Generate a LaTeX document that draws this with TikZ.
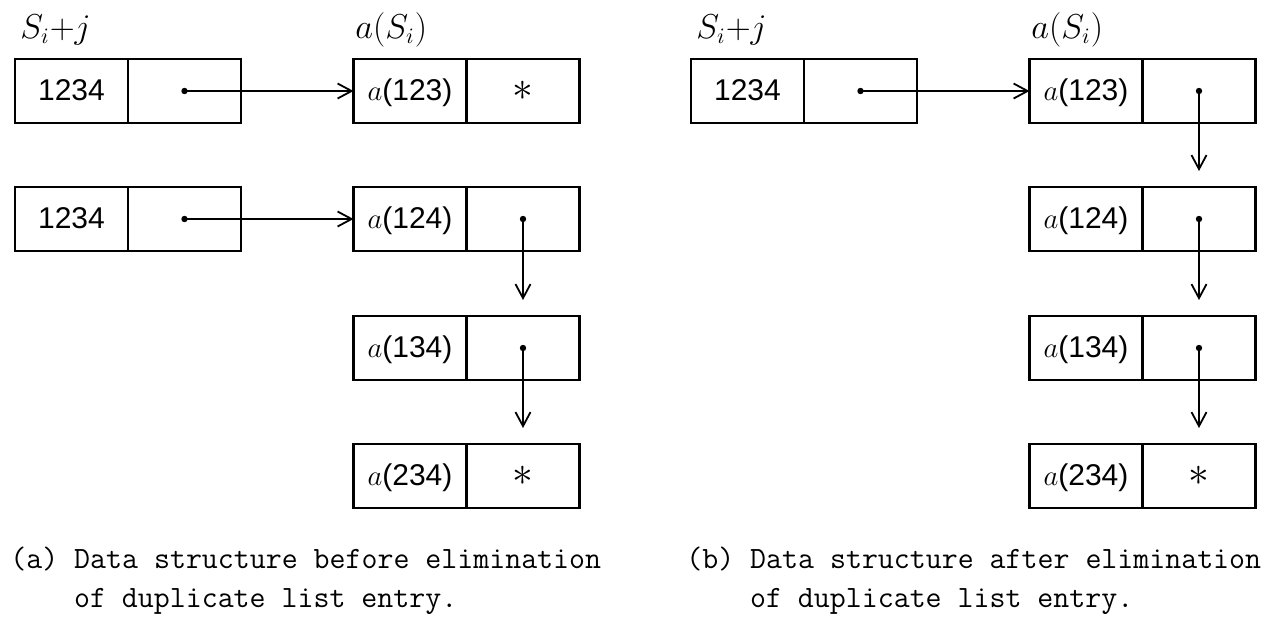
\documentclass[tikz,border=0pt]{standalone}
\usepackage{fontspec}
\setsansfont{Liberation Sans}
\usetikzlibrary{arrows.meta, positioning}

\newcommand{\starmark}{{\fontsize{20}{20}\selectfont$\ast$}}

\begin{document}
\begin{tikzpicture}[x=0.5pt, y=-0.5pt,
    cell/.style = {draw, line width=1.2pt, minimum width=56.5pt, minimum height=32pt, inner sep=0pt, outer sep=0pt, font=\sffamily\fontsize{15}{18}\selectfont, text height=10.5pt, text depth=1.5pt},
    ptr/.style = {line width=0.9pt, -{Straight Barb[length=7pt, width=7.5pt]}},
    down/.style = {ptr, shorten >=8pt},
    lbl/.style = {font=\fontsize{16}{18}\selectfont, inner sep=0pt, anchor=base west},
    captext/.style = {font=\ttfamily\fontsize{15.5}{18}\selectfont, inner sep=0pt, anchor=base west}]

        \useasboundingbox (0, 0) rectangle (1271, 618);

        % Panel (a): before elimination
        \begin{scope}
            \node[lbl] (hk) at (20, 38) {$S_i{+}j$};
            \node[lbl] (ha) at (355, 38) {$a(S_i)$};

            \node[cell] (k1) at (71.5, 91) {1234};
            \node[cell, right=0pt of k1] (p1) {};
            \node[cell] (k2) at (71.5, 219) {1234};
            \node[cell, right=0pt of k2] (p2) {};

            \node[cell] (a1) at (410, 91) {$a$(123)};
            \node[cell, right=0pt of a1] (n1) {\starmark};
            \node[cell] (a2) at (410, 219) {$a$(124)};
            \node[cell, right=0pt of a2] (n2) {};
            \node[cell] (a3) at (410, 348) {$a$(134)};
            \node[cell, right=0pt of a3] (n3) {};
            \node[cell] (a4) at (410, 476) {$a$(234)};
            \node[cell, right=0pt of a4] (n4) {\starmark};

            \draw[ptr] (p1.center) -- (a1.west);
            \draw[ptr] (p2.center) -- (a2.west);
            \draw[down] (n2.center) -- (n3.north);
            \draw[down] (n3.center) -- (n4.north);
            \foreach \n in {p1, p2, n2, n3} \fill (\n.center) circle[radius=1.6pt];

            \node[captext] (ca1) at (10, 568) {(a) Data structure before elimination};
            \node[captext] (ca2) at (73.7, 607) {of duplicate list entry.};
        \end{scope}

        % Panel (b): after elimination
        \begin{scope}[xshift=338pt]
            \node[lbl] (bhk) at (20, 38) {$S_i{+}j$};
            \node[lbl] (bha) at (355, 38) {$a(S_i)$};

            \node[cell] (bk1) at (71.5, 91) {1234};
            \node[cell, right=0pt of bk1] (bp1) {};

            \node[cell] (ba1) at (410, 91) {$a$(123)};
            \node[cell, right=0pt of ba1] (bn1) {};
            \node[cell] (ba2) at (410, 219) {$a$(124)};
            \node[cell, right=0pt of ba2] (bn2) {};
            \node[cell] (ba3) at (410, 348) {$a$(134)};
            \node[cell, right=0pt of ba3] (bn3) {};
            \node[cell] (ba4) at (410, 476) {$a$(234)};
            \node[cell, right=0pt of ba4] (bn4) {\starmark};

            \draw[ptr] (bp1.center) -- (ba1.west);
            \draw[down] (bn1.center) -- (bn2.north);
            \draw[down] (bn2.center) -- (bn3.north);
            \draw[down] (bn3.center) -- (bn4.north);
            \foreach \n in {bp1, bn1, bn2, bn3} \fill (\n.center) circle[radius=1.6pt];

            \node[captext] (cb1) at (10, 568) {(b) Data structure after elimination};
            \node[captext] (cb2) at (73.7, 607) {of duplicate list entry.};
        \end{scope}
    \end{tikzpicture}
\end{document}
